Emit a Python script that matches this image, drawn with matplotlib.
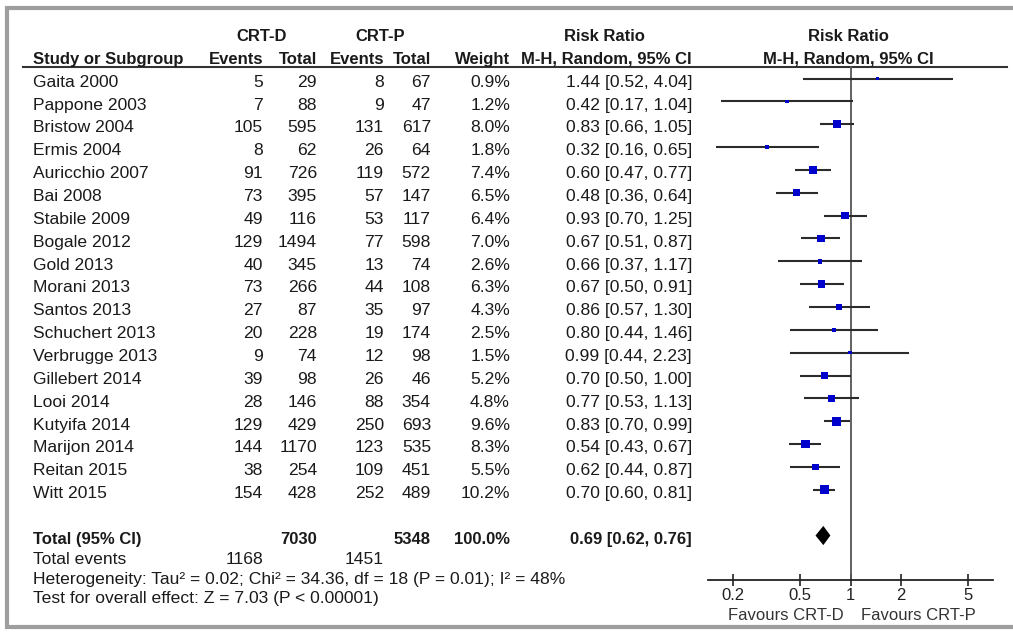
import matplotlib
matplotlib.use('Agg')
import matplotlib.pyplot as plt
from matplotlib.ticker import NullLocator
import numpy as np

plt.rcParams['font.family'] = ['Liberation Sans', 'DejaVu Sans']

# data
studies = ["Gaita 2000", "Pappone 2003", "Bristow 2004", "Ermis 2004", "Auricchio 2007",
           "Bai 2008", "Stabile 2009", "Bogale 2012", "Gold 2013", "Morani 2013",
           "Santos 2013", "Schuchert 2013", "Verbrugge 2013", "Gillebert 2014", "Looi 2014",
           "Kutyifa 2014", "Marijon 2014", "Reitan 2015", "Witt 2015"]
crtd_events = [5, 7, 105, 8, 91, 73, 49, 129, 40, 73, 27, 20, 9, 39, 28, 129, 144, 38, 154]
crtd_total = [29, 88, 595, 62, 726, 395, 116, 1494, 345, 266, 87, 228, 74, 98, 146, 429, 1170, 254, 428]
crtp_events = [8, 9, 131, 26, 119, 57, 53, 77, 13, 44, 35, 19, 12, 26, 88, 250, 123, 109, 252]
crtp_total = [67, 47, 617, 64, 572, 147, 117, 598, 74, 108, 97, 174, 98, 46, 354, 693, 535, 451, 489]
weight = [0.9, 1.2, 8.0, 1.8, 7.4, 6.5, 6.4, 7.0, 2.6, 6.3, 4.3, 2.5, 1.5, 5.2, 4.8, 9.6, 8.3, 5.5, 10.2]
rr = [1.44, 0.42, 0.83, 0.32, 0.60, 0.48, 0.93, 0.67, 0.66, 0.67, 0.86, 0.80, 0.99, 0.70, 0.77, 0.83, 0.54, 0.62, 0.70]
ci_lo = [0.52, 0.17, 0.66, 0.16, 0.47, 0.36, 0.70, 0.51, 0.37, 0.50, 0.57, 0.44, 0.44, 0.50, 0.53, 0.70, 0.43, 0.44, 0.60]
ci_hi = [4.04, 1.04, 1.05, 0.65, 0.77, 0.64, 1.25, 0.87, 1.17, 0.91, 1.30, 1.46, 2.23, 1.00, 1.13, 0.99, 0.67, 0.87, 0.81]

total_d, total_p = 7030, 5348
events_d, events_p = 1168, 1451
pooled = (0.69, 0.62, 0.76)
ticks = [0.2, 0.5, 1, 2, 5]
heterogeneity = "Heterogeneity: Tau\u00b2 = 0.02; Chi\u00b2 = 34.36, df = 18 (P = 0.01); I\u00b2 = 48%"
overall = "Test for overall effect: Z = 7.03 (P < 0.00001)"

FS = 12.6      # regular text
FSB = 12       # bold headers
TXT = '#1a1a1a'
W, H = 1013, 637
row0, row_h = 78.5, 22.85


def prow(p):
    # pixel height -> row units
    return (p - row0) / row_h


fig = plt.figure(figsize=(W / 100, H / 100), dpi=100)
ax = fig.add_axes([0, 0, 1, 1])
ax.set_xlim(0, W)
ax.set_ylim(prow(H), prow(0))
ax.axis('off')

rows = np.arange(len(studies))
total_row = len(studies) + 1
axis_row = prow(580)

# column anchors (pixels)
x_name, x_de, x_dt, x_pe, x_pt, x_w, x_rr = 33, 263, 317, 384, 431, 510, 692


def txt(x, y, s, ha='right', bold=False):
    ax.text(x, y + 0.1, s, ha=ha, va='center_baseline', fontsize=FSB if bold else FS,
            color=TXT, fontweight='bold' if bold else 'normal')


# headers
txt(262, -2, 'CRT-D', ha='center', bold=True)
txt(380, -2, 'CRT-P', ha='center', bold=True)
txt(604, -2, 'Risk Ratio', ha='center', bold=True)
txt(848, -2, 'Risk Ratio', ha='center', bold=True)
txt(x_name, -1, 'Study or Subgroup', ha='left', bold=True)
txt(x_de, -1, 'Events', bold=True)
txt(x_dt, -1, 'Total', bold=True)
txt(x_pe, -1, 'Events', bold=True)
txt(x_pt, -1, 'Total', bold=True)
txt(x_w, -1, 'Weight', bold=True)
txt(x_rr, -1, 'M-H, Random, 95% CI', bold=True)
txt(848, -1, 'M-H, Random, 95% CI', ha='center', bold=True)
ax.plot([23, 1007], [-0.5, -0.5], color='#333333', lw=1.5)

# study rows
for i, name in enumerate(studies):
    txt(x_name, i, name, ha='left')
    txt(x_de, i, str(crtd_events[i]))
    txt(x_dt, i, str(crtd_total[i]))
    txt(x_pe, i, str(crtp_events[i]))
    txt(x_pt, i, str(crtp_total[i]))
    txt(x_w, i, f'{weight[i]:.1f}%')
    txt(x_rr, i, f'{rr[i]:.2f} [{ci_lo[i]:.2f}, {ci_hi[i]:.2f}]')

# totals
txt(x_name, total_row, 'Total (95% CI)', ha='left', bold=True)
txt(x_dt, total_row, str(total_d), bold=True)
txt(x_pt, total_row, str(total_p), bold=True)
txt(x_w, total_row, f'{sum(weight):.1f}%', bold=True)
txt(x_rr, total_row, f'{pooled[0]:.2f} [{pooled[1]:.2f}, {pooled[2]:.2f}]', bold=True)
txt(x_name, total_row + 0.9, 'Total events', ha='left')
txt(x_de, total_row + 0.9, str(events_d))
txt(x_pe, total_row + 0.9, str(events_p))
txt(x_name, total_row + 1.75, heterogeneity, ha='left')
txt(x_name, total_row + 2.6, overall, ha='left')

# grey frame
ax.plot([W + 10, 7, 7, W + 10], [prow(8), prow(8), prow(627), prow(627)],
        color='#9e9e9e', lw=3, clip_on=False, solid_joinstyle='miter')

# forest panel
fax = fig.add_axes([708 / W, 0, 285 / W, 1], sharey=ax)
fax.set_xscale('log')
fax.set_xlim(1 / 7, 7)
fax.patch.set_visible(False)
for side in ['top', 'left', 'right']:
    fax.spines[side].set_visible(False)
fax.spines['bottom'].set_position(('data', axis_row))
fax.spines['bottom'].set_linewidth(1.3)
fax.spines['bottom'].set_color('#222222')
fax.set_xticks(ticks)
fax.set_xticklabels([f'{t:g}' for t in ticks])
fax.xaxis.set_minor_locator(NullLocator())
fax.tick_params(axis='x', direction='inout', length=9, width=1.2, pad=1,
                labelsize=12, colors='#222222')
fax.tick_params(axis='y', left=False, labelleft=False)

fax.plot([1, 1], [-0.5, axis_row], color='#555555', lw=1.3)
fax.hlines(rows, ci_lo, ci_hi, color='#2b2b2b', lw=1.5)
fax.scatter(rr, rows, marker='s', s=(2.1 * np.sqrt(weight)) ** 2, color='#0000cc',
            linewidths=0, zorder=3)
fax.fill([pooled[1], pooled[0], pooled[2], pooled[0]],
         [total_row, total_row - 0.42, total_row, total_row + 0.42], color='black', lw=0)

fav_row = prow(614)
fax.annotate('Favours CRT-D', xy=(1, fav_row), xytext=(-7, 0), textcoords='offset pixels',
             ha='right', va='center_baseline', fontsize=12, color='#333333')
fax.annotate('Favours CRT-P', xy=(1, fav_row), xytext=(10, 0), textcoords='offset pixels',
             ha='left', va='center_baseline', fontsize=12, color='#333333')

fig.savefig('out.png', dpi=100)
